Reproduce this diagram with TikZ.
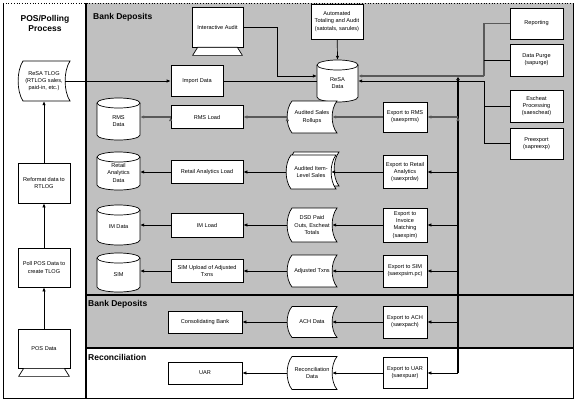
\documentclass[tikz,border=0pt]{standalone}
\usepackage{fontspec}
\setmainfont{Liberation Sans}
\usetikzlibrary{arrows.meta,calc}

\definecolor{lanegray}{RGB}{192,192,192}
\newcommand{\boxfont}{\fontsize{5.6}{7.2}\selectfont}
\newcommand{\titlefont}{\fontsize{8.5}{10}\selectfont\bfseries}

% stored data outline: centre x, centre y, width, height
\newcommand{\docpath}[4]{%
  \pgfmathsetmacro\dxa{#1-#3/2}\pgfmathsetmacro\dxb{#1+#3/2}%
  \pgfmathsetmacro\dya{#2-#4/2}\pgfmathsetmacro\dyb{#2+#4/2}%
  \pgfmathsetmacro\dhq{#4/4}%
  \draw[outline] (\dxa+5,\dya) -- (\dxb,\dya)
    .. controls (\dxb-6.5,\dya+\dhq) and (\dxb-6.5,\dyb-\dhq) .. (\dxb,\dyb)
    -- (\dxa+5,\dyb)
    .. controls (\dxa-1.5,\dyb-\dhq) and (\dxa-1.5,\dya+\dhq) .. (\dxa+5,\dya) -- cycle;}

% name, centre x, centre y, width, height, text
\newcommand{\storeddata}[6]{%
  \docpath{#2}{#3}{#4}{#5}
  \node[doc, minimum width=#4pt, minimum height=#5pt] (#1) at (#2,#3) {#6};
  \coordinate (#1-l) at (#2-#4/2+0.3,#3);
  \coordinate (#1-r) at (#2+#4/2-4.8,#3);}

% name, centre x, centre y, width, height, text
\newcommand{\database}[6]{%
  \pgfmathsetmacro\cxa{#2-#4/2}\pgfmathsetmacro\cxb{#2+#4/2}%
  \pgfmathsetmacro\cya{#3-#5/2+5}\pgfmathsetmacro\cyb{#3+#5/2-5}%
  \pgfmathsetmacro\crx{#4/2}%
  \draw[outline] (\cxa,\cya) -- (\cxa,\cyb)
    arc[start angle=180, end angle=360, x radius=\crx pt, y radius=5pt]
    -- (\cxb,\cya)
    arc[start angle=0, end angle=180, x radius=\crx pt, y radius=5pt] -- cycle;
  \draw[outline, fill=none] (\cxa,\cya)
    arc[start angle=180, end angle=360, x radius=\crx pt, y radius=5pt];
  \node[doc, minimum width=#4pt, minimum height=#5pt] (#1) at (#2,#3)
    {\raisebox{-2.5pt}[\height][\depth]{\begin{tabular}{@{}c@{}}#6\end{tabular}}};}

% foot of a screen box
\newcommand{\screenfoot}[1]{%
  \draw[outline] ($(#1.south west)+(6,0)$) -- ($(#1.south east)+(-6,0)$)
    -- ($(#1.south east)+(-1,8)$) -- ($(#1.south west)+(1,8)$) -- cycle;}

\begin{document}
\begin{tikzpicture}[x=1pt, y=-1pt,
    box/.style={draw, line width=0.7pt, fill=white, align=center, inner sep=1pt, font=\boxfont},
    doc/.style={align=center, inner sep=1pt, font=\boxfont},
    outline/.style={draw, line width=0.7pt, fill=white},
    title/.style={align=center, inner sep=0pt, font=\titlefont},
    lane/.style={line width=1.4pt},
    flow/.style={line width=0.7pt, -{Latex[length=4pt,width=3.4pt]}},
    heavy/.style={flow, line width=1.3pt, draw=black!65},
    link/.style={line width=0.7pt},
    bus/.style={line width=1.6pt}]
  \useasboundingbox (0,0) rectangle (577,404);

  % lanes
  \fill[lanegray] (86,3) rectangle (573,348);
  \draw[line width=0.7pt] (3,3) -- (3,398) -- (573,398) -- (573,3);
  \draw[line width=0.7pt, dotted] (3,3) -- (573,3);
  \draw[lane] (86,3) -- (86,398);
  \draw[lane] (86,295) -- (573,295);
  \draw[lane] (86,348) -- (573,348);

  \node[title] (postitle) at (45,23) {POS/Polling\\Process};
  \node[title, anchor=west] (banktitle) at (93,17) {Bank Deposits};
  \node[title, anchor=west] (achtitle) at (88,304) {Bank Deposits};
  \node[title, anchor=west] (rectitle) at (88,357) {Reconciliation};

  % POS / polling
  \storeddata{tlog}{44}{81}{52}{40}{ReSA TLOG\\(RTLOG sales,\\paid-in, etc.)}
  \node[box, minimum width=52pt, minimum height=40pt] (reformat) at (44,183) {Reformat data to\\RTLOG};
  \node[box, minimum width=52pt, minimum height=39pt] (poll) at (44,267.5) {Poll POS Data to\\create TLOG};
  \node[box, minimum width=52pt, minimum height=39pt] (posdata) at (44,348.5) {POS Data};
  \screenfoot{posdata}

  % audit and ReSA data
  \node[box, minimum width=51pt, minimum height=40pt] (intaudit) at (217.5,27) {Interactive Audit};
  \screenfoot{intaudit}
  \node[box, minimum width=52pt, minimum height=35pt] (autoaudit) at (337,21.5) {Automated\\Totaling and Audit\\(satotals, sarules)};
  \database{resa}{337.5}{81}{41}{42}{ReSA\\Data}
  \node[box, minimum width=52pt, minimum height=31pt] (import) at (197,81) {Import Data};

  \node[box, minimum width=53pt, minimum height=31pt] (reporting) at (536.5,23.5) {Reporting};
  \node[box, minimum width=53pt, minimum height=32pt] (purge) at (536.5,60) {Data Purge\\(sapurge)};
  \node[box, minimum width=53pt, minimum height=32pt] (escheat) at (536.5,106) {Escheat\\Processing\\(saescheat)};
  \node[box, minimum width=53pt, minimum height=31pt] (preexp) at (536.5,143.5) {Preexport\\(sapreexp)};

  % export rows
  \database{rmsdata}{118.5}{119}{43}{42}{RMS\\Data}
  \node[box, minimum width=72pt, minimum height=23pt] (rmsload) at (207,117) {RMS Load};
  \storeddata{rollups}{312}{117}{50}{32}{Audited Sales\\Rollups}
  \node[box, minimum width=44pt, minimum height=30pt] (exprms) at (405,117) {Export to RMS\\(saexprms)};

  \database{radata}{118.5}{171}{43}{38}{Retail\\Analytics\\Data}
  \node[box, minimum width=72pt, minimum height=23pt] (raload) at (207,172) {Retail Analytics Load};
  \docpath{314}{169}{50}{34}
  \storeddata{itemsales}{311}{172}{50}{34}{Audited Item-\\Level Sales}
  \node[box, minimum width=44pt, minimum height=33pt] (exprdw) at (405,172) {Export to Retail\\Analytics\\(saexprdw)};

  \database{imdata}{118.5}{225}{43}{40}{IM Data}
  \node[box, minimum width=72pt, minimum height=24pt] (imload) at (207,225) {IM Load};
  \storeddata{dsd}{312}{225}{50}{34}{DSD Paid\\Outs, Escheat\\Totals}
  \node[box, minimum width=44pt, minimum height=34pt] (expim) at (405,225) {Export to\\Invoice\\Matching\\(saexpim)};

  \database{simdata}{118.5}{272.5}{43}{39}{SIM}
  \node[box, minimum width=72pt, minimum height=23pt] (simload) at (207,271) {SIM Upload of Adjusted\\Txns};
  \storeddata{adjtx}{312}{271}{50}{32}{Adjusted Txns}
  \node[box, minimum width=44pt, minimum height=32pt] (expsim) at (405,271) {Export to SIM\\(saexpsim.pc)};

  \node[box, minimum width=74pt, minimum height=22pt] (bank) at (205,322) {Consolidating Bank};
  \storeddata{ach}{312}{322}{50}{31}{ACH Data}
  \node[box, minimum width=44pt, minimum height=32pt] (expach) at (405,322) {Export to ACH\\(saexpach)};

  \node[box, minimum width=74pt, minimum height=22pt] (uar) at (205,373) {UAR};
  \storeddata{recdata}{312}{373}{50}{33}{Reconciliation\\Data}
  \node[box, minimum width=44pt, minimum height=31pt] (expuar) at (405,373) {Export to UAR\\(saexpuar)};

  \coordinate (topbrk) at (484,76);
  \coordinate (lowbrk) at (484,81);
  \coordinate (bustop) at (458,77);
  \coordinate (busbot) at (458,373);

  % connectors
  \path[flow] (posdata) edge (poll);
  \path[flow] (poll) edge (reformat);
  \path[flow] (reformat) edge (tlog);
  \path[flow] (tlog-r) edge (tlog-r -| import.west);
  \path[link] (import) edge (resa.west);
  \draw[flow] (intaudit.east) -- ++(34,0) |- ($(resa.west)+(0,-5)$);
  \path[flow] (autoaudit) edge (resa.north);

  \draw[heavy, -] (reporting.west) -| (topbrk);
  \draw[link] (purge.west) -- (purge.west -| topbrk);
  \draw[heavy] (topbrk) -- (topbrk -| resa.east);
  \draw[link] (escheat.west) -| (lowbrk);
  \draw[link] (preexp.west) -| (lowbrk);
  \draw[flow] (lowbrk) -- (lowbrk -| resa.east);

  \draw[bus, {Triangle[open,length=3pt,width=3.5pt]}-] (bustop) -- (busbot);
  \draw[flow] (busbot) -- (expuar);
  \path[heavy] (bustop |- exprms) edge (exprms);
  \path[flow] (bustop |- exprdw) edge (exprdw);
  \path[flow] (bustop |- expim) edge (expim);
  \path[flow] (bustop |- expsim) edge (expsim);
  \path[flow] (bustop |- expach) edge (expach);

  \path[heavy] (exprms) edge (rollups-r);
  \path[heavy] (rollups-l) edge (rmsload);
  \path[heavy] (rmsload.west) edge (rmsload.west -| rmsdata.east);
  \path[flow] (exprdw) edge (itemsales-r);
  \path[flow] (itemsales-l) edge (raload);
  \path[flow] (raload.west) edge (raload.west -| radata.east);
  \path[flow] (expim) edge (dsd-r);
  \path[flow] (dsd-l) edge (imload);
  \path[flow] (imload.west) edge (imload.west -| imdata.east);
  \path[flow] (expsim) edge (adjtx-r);
  \path[flow] (adjtx-l) edge (simload);
  \path[flow] (simload.west) edge (simload.west -| simdata.east);
  \path[flow] (expach) edge (ach-r);
  \path[flow] (ach-l) edge (bank);
  \path[flow] (expuar) edge (recdata-r);
  \path[flow] (recdata-l) edge (uar);
\end{tikzpicture}
\end{document}
